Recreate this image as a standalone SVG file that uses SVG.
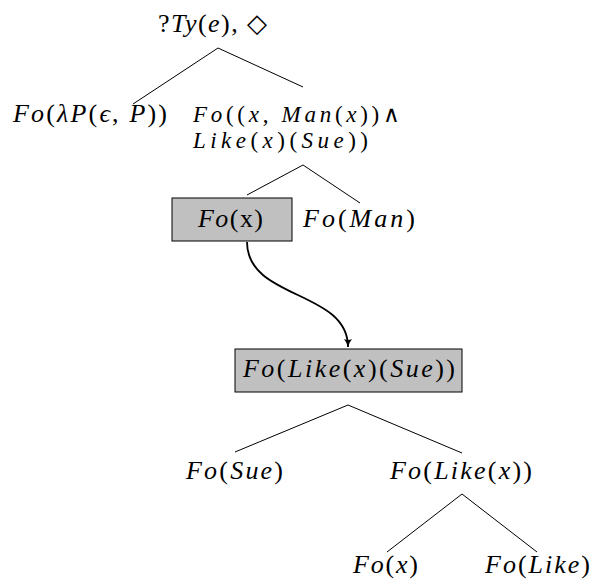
<svg xmlns="http://www.w3.org/2000/svg" width="595" height="588" viewBox="0 0 595 588">
<style>
.i{font-style:italic}
.e{stroke:#000;stroke-width:1;fill:none}
.arr{stroke:#000;stroke-width:1.8;fill:none}
.box{fill:#c0c0c0;stroke:#000;stroke-width:1}
</style>
<defs>
<marker id="ah" markerWidth="10" markerHeight="10" refX="8" refY="5" orient="auto" markerUnits="userSpaceOnUse">
<path d="M0,1 Q4,4 8,5 Q4,6 0,9 Q2,5 0,1 Z" fill="#000"/>
</marker>
</defs>
<g id="connectors">
<line class="e" x1="218" y1="48" x2="133" y2="104"/>
<line class="e" x1="218" y1="48" x2="303" y2="87"/>
<line class="e" x1="303" y1="165" x2="247" y2="195"/>
<line class="e" x1="303" y1="165" x2="360" y2="203"/>
<path class="arr" d="M247,242 C247,300 348,290 348,347" marker-end="url(#ah)"/>
<line class="e" x1="348" y1="405" x2="235" y2="452"/>
<line class="e" x1="348" y1="405" x2="462" y2="453"/>
<line class="e" x1="462" y1="494" x2="387" y2="552"/>
<line class="e" x1="462" y1="494" x2="537" y2="552"/>
</g>
<g font-family="Liberation Serif" font-size="26" fill="#000">
<g id="root"><text x="158" y="32" textLength="109" lengthAdjust="spacing">?<tspan class="i">Ty</tspan>(<tspan class="i">e</tspan>), ◇</text></g>
<g id="left"><text x="13" y="122" textLength="154" lengthAdjust="spacing"><tspan class="i">Fo</tspan>(<tspan class="i">λP</tspan>(<tspan class="i">ϵ</tspan>, <tspan class="i">P</tspan>))</text></g>
<g id="right" font-size="23">
<text x="193" y="122" textLength="207" lengthAdjust="spacing"><tspan class="i">Fo</tspan>((<tspan class="i">x</tspan>, <tspan class="i">Man</tspan>(<tspan class="i">x</tspan>))∧</text>
<text x="193" y="148" textLength="175" lengthAdjust="spacing"><tspan class="i">Like</tspan>(<tspan class="i">x</tspan>)(<tspan class="i">Sue</tspan>))</text>
</g>
<g id="fox">
<rect class="box" x="172" y="198" width="120" height="43"/>
<text x="198" y="227" textLength="65" lengthAdjust="spacing"><tspan class="i">Fo</tspan>(x)</text>
</g>
<g id="foman"><text x="303" y="227" textLength="112" lengthAdjust="spacing"><tspan class="i">Fo</tspan>(<tspan class="i">Man</tspan>)</text></g>
<g id="folikexsue">
<rect class="box" x="235" y="349" width="227" height="43"/>
<text x="243" y="377" textLength="212" lengthAdjust="spacing"><tspan class="i">Fo</tspan>(<tspan class="i">Like</tspan>(<tspan class="i">x</tspan>)(<tspan class="i">Sue</tspan>))</text>
</g>
<g id="fosue"><text x="186" y="479" textLength="97" lengthAdjust="spacing"><tspan class="i">Fo</tspan>(<tspan class="i">Sue</tspan>)</text></g>
<g id="folikex"><text x="390" y="479" textLength="142" lengthAdjust="spacing"><tspan class="i">Fo</tspan>(<tspan class="i">Like</tspan>(<tspan class="i">x</tspan>))</text></g>
<g id="fox2"><text x="353" y="573" textLength="65" lengthAdjust="spacing"><tspan class="i">Fo</tspan>(<tspan class="i">x</tspan>)</text></g>
<g id="folike"><text x="485" y="573" textLength="105" lengthAdjust="spacing"><tspan class="i">Fo</tspan>(<tspan class="i">Like</tspan>)</text></g>
</g>
</svg>
